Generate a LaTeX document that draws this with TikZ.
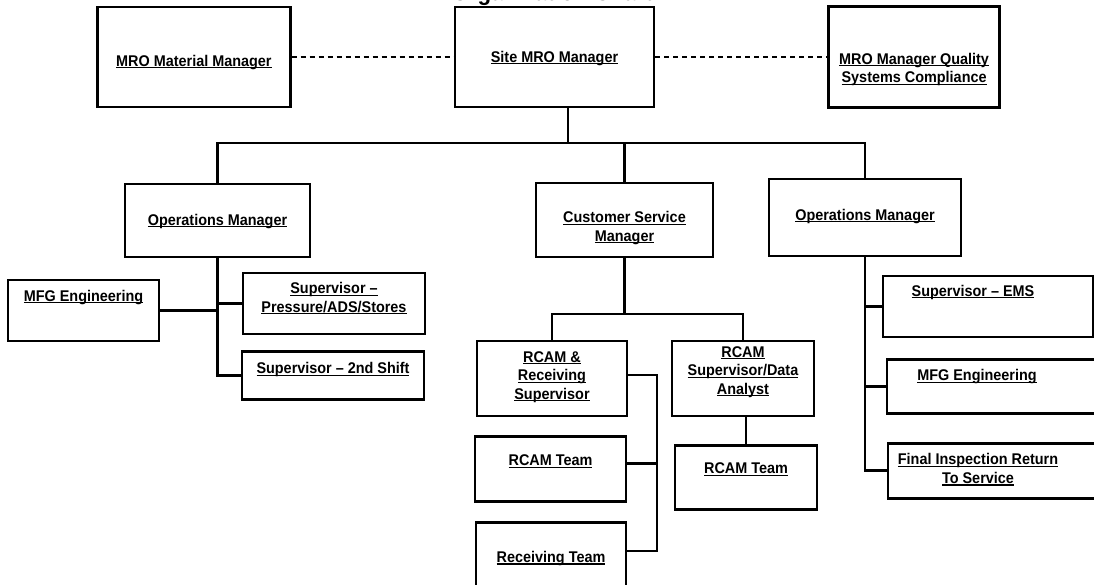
\documentclass[tikz,border=0pt]{standalone}
\usepackage{fontspec}
\setmainfont[FakeStretch=0.93]{Liberation Sans}
\usetikzlibrary{positioning}

\newcommand{\ulin}[1]{\leavevmode\setbox0\hbox{#1}\rlap{\rule[-2.4pt]{\wd0}{1.2pt}}\box0}

\tikzstyle{bx} = [rectangle, draw, line width=2.6pt, sharp corners, inner sep=0pt, align=center, font=\bfseries\fontsize{15.5}{18.5}\selectfont]
\tikzstyle{ln} = [draw, line width=2.6pt]
\tikzstyle{dl} = [draw, line width=1.3pt, dash pattern=on 5pt off 4pt]
\tikzset{sz/.style n args={3}{minimum width=#1pt, text height=#2pt, text depth=#3pt}}

\begin{document}
\begin{tikzpicture}[x=1pt, y=-1pt, node distance=18pt]
    \useasboundingbox (0,0) rectangle (1094,584);
    % Place nodes
    \node [font=\bfseries\fontsize{24}{26}\selectfont, anchor=base] (title) at (552,0.5) {Organization Chart};
    \node [bx, sz={199}{55}{45}] (site) at (554.5,57) {\ulin{Site MRO Manager}};
    \node [bx, sz={193}{59}{41}, left=162pt of site] (matmgr) {\ulin{MRO Material Manager}};
    \node [bx, sz={171}{76}{25}, right=172pt of site] (quality) {\ulin{MRO Manager Quality}\\\ulin{Systems  Compliance}};

    \node [bx, sz={185}{41}{32}] (opsl) at (217.5,220.5) {\ulin{Operations Manager}};
    \node [bx, sz={177}{58}{16}] (csm) at (624.5,220) {\ulin{Customer Service}\\\ulin{Manager}};
    \node [bx, sz={192}{41}{36}] (opsr) at (865,217.5) {\ulin{Operations Manager}};

    \node [bx, sz={182}{39}{22}] (suppress) at (334,303.5) {\ulin{Supervisor --}\\\ulin{Pressure/ADS/Stores}};
    \node [bx, sz={182}{22}{26}, below=15pt of suppress, xshift=-1pt] (sup2) {\ulin{Supervisor -- 2nd Shift}};
    \node [bx, sz={151}{21}{40}] (mfgl) at (83.5,310.5) {\ulin{MFG Engineering}};

    \node [bx, sz={150}{58}{17}] (rcamrecv) at (552,378.5) {\ulin{RCAM \&}\\\ulin{Receiving}\\\ulin{Supervisor}};
    \node [bx, sz={151}{29}{36}, below=of rcamrecv, xshift=-1.5pt] (rcamteam1) {\ulin{RCAM Team}};
    \node [bx, sz={150}{40}{43}, below=of rcamteam1, xshift=0.5pt] (recvteam) {\ulin{Receiving Team}};

    \node [bx, sz={142}{53}{22}] (rcamsup) at (743,378.5) {\ulin{RCAM}\\\ulin{Supervisor/Data}\\\ulin{Analyst}};
    \node [bx, sz={142}{28}{36}, below=27pt of rcamsup, xshift=3pt] (rcamteam2) {\ulin{RCAM Team}};

    \node [bx, sz={210}{20}{41}] (supems) at (988,306.5) {\ulin{Supervisor -- EMS}\hspace*{30pt}};
    \node [bx, sz={213}{21}{33}, below=20pt of supems, xshift=5.5pt] (mfgr) {\ulin{MFG Engineering}\hspace*{33pt}};
    \node [bx, sz={212}{40}{15}, below=27pt of mfgr, xshift=0.5pt] (finalinsp) {\ulin{Final Inspection Return}\hspace*{32pt}\\\ulin{To Service}\hspace*{32pt}};

    \coordinate (bus) at (568,143);
    \coordinate (cbus) at (625,314);
    \coordinate (rbot) at (657,551);

    % Draw edges
    \path [dl] (matmgr) -- (site);
    \path [dl] (site) -- (quality);
    \path [ln] (bus |- site.south) -- (bus);
    \path [ln] (opsl.north) |- (bus) -| (opsr.north);
    \path [ln] (csm.north) -- (csm.north |- bus);

    \path [ln] (opsl.south) |- (sup2.west);
    \path [ln] (suppress.west) -- (suppress.west -| opsl.south);
    \path [ln] (mfgl.east) -- (mfgl.east -| opsl.south);

    \path [ln] (csm.south) -- (csm.south |- cbus);
    \path [ln] (rcamrecv.north) |- (cbus) -| (rcamsup.north);
    \path [ln] (rcamteam2.north) -- (rcamteam2.north |- rcamsup.south);
    \path [ln] ([yshift=3.5pt]rcamrecv.east) -| (rbot) -- (rbot -| recvteam.east);
    \path [ln] ([yshift=5.5pt]rcamteam1.east) -- ([yshift=5.5pt]rcamteam1.east -| rbot);

    \path [ln] (opsr.south) |- (finalinsp.west);
    \path [ln] (supems.west) -- (supems.west -| opsr.south);
    \path [ln] (mfgr.west) -- (mfgr.west -| opsr.south);

\end{tikzpicture}
\end{document}
